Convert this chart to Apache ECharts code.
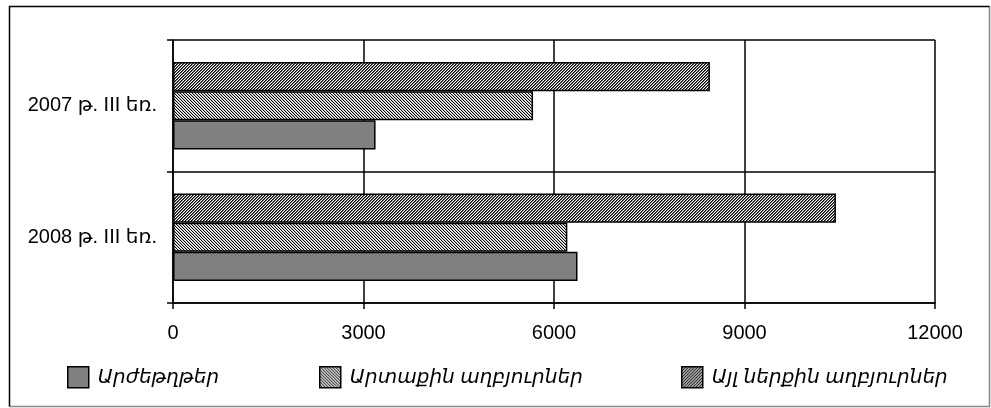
<!DOCTYPE html>
<html>
<head>
<meta charset="utf-8">
<script src="https://cdn.jsdelivr.net/npm/echarts@6/dist/echarts.min.js"></script>
<style>
html,body{margin:0;padding:0;background:#fff;}
#chart{width:991px;height:408px;}
</style>
</head>
<body>
<div id="chart"></div>
<script>
var categories = ['2007 թ. III եռ.', '2008 թ. III եռ.'];
var seriesNames = ['Արժեթղթեր', 'Արտաքին աղբյուրներ', 'Այլ ներքին աղբյուրներ'];
var securities = [3190, 6370];
var external = [5670, 6210];
var otherDomestic = [8455, 10440];
var xTicks = [0, 3000, 6000, 9000, 12000];

function makePattern(n, fn) {
  var c = document.createElement('canvas');
  c.width = n; c.height = n;
  var ctx = c.getContext('2d');
  ctx.fillStyle = '#fff';
  ctx.fillRect(0, 0, n, n);
  for (var x = 0; x < n; x++) {
    for (var y = 0; y < n; y++) {
      var col = fn(x, y);
      if (col) { ctx.fillStyle = col; ctx.fillRect(x, y, 1, 1); }
    }
  }
  return { image: c, repeat: 'repeat' };
}
var patOther = makePattern(3, function (x, y) {
  var k = (x + y) % 3;
  return k === 0 ? '#000' : (k === 1 ? '#666' : null);
});
var patExternal = makePattern(3, function (x, y) {
  var k = ((x - y) % 3 + 3) % 3;
  return k === 0 ? '#000' : (k === 1 ? '#bbb' : null);
});

var FONT = '"Liberation Sans", "DejaVu Sans", Arial, sans-serif';
var colorMap = {};
colorMap[seriesNames[0]] = '#808080';
colorMap[seriesNames[1]] = patExternal;
colorMap[seriesNames[2]] = patOther;
var dataMap = {};
dataMap[seriesNames[0]] = securities;
dataMap[seriesNames[1]] = external;
dataMap[seriesNames[2]] = otherDomestic;

// drawn top-to-bottom inside each band: other domestic, external, securities
var drawOrder = [seriesNames[2], seriesNames[1], seriesNames[0]];
var series = drawOrder.map(function (n) {
  return {
    name: n,
    type: 'bar',
    data: dataMap[n],
    barGap: '0%',
    barCategoryGap: '33.6%',
    itemStyle: { color: colorMap[n], borderColor: '#000', borderWidth: 1.5 },
    emphasis: { disabled: true },
    animation: false
  };
});

var legendLefts = [67, 319, 681];
var legends = seriesNames.map(function (n, i) {
  return {
    data: [n],
    left: legendLefts[i],
    top: 366,
    padding: 0,
    icon: 'rect',
    itemWidth: 21,
    itemHeight: 21,
    itemStyle: { borderColor: '#000', borderWidth: 1.5 },
    textStyle: { fontFamily: FONT, fontSize: 20, fontStyle: 'italic', color: '#000', padding: [0, 0, 0, 4] },
    selectedMode: false
  };
});

var chart = echarts.init(document.getElementById('chart'), null, { renderer: 'canvas' });
chart.setOption({
  backgroundColor: '#fff',
  animation: false,
  grid: { left: 173, right: 56, top: 40, bottom: 105, containLabel: false },
  xAxis: {
    type: 'value',
    min: 0, max: 12000, interval: 3000,
    axisLine: { show: true, lineStyle: { color: '#000', width: 1.5 } },
    axisTick: { show: true, length: 6, lineStyle: { color: '#000', width: 1.5 } },
    axisLabel: { margin: 20, fontFamily: FONT, fontSize: 20, color: '#000',
      formatter: function (v) { return xTicks.indexOf(v) >= 0 ? String(v) : ''; } },
    splitLine: { show: true, lineStyle: { color: '#000', width: 1.5 } }
  },
  yAxis: {
    type: 'category',
    data: categories,
    inverse: true,
    axisLine: { show: true, lineStyle: { color: '#000', width: 1.5 } },
    axisTick: { show: true, length: 6, lineStyle: { color: '#000', width: 1.5 } },
    axisLabel: { margin: 16, fontFamily: FONT, fontSize: 20, color: '#000' },
    splitLine: { show: true, lineStyle: { color: '#000', width: 1.5 } }
  },
  legend: legends,
  series: series,
  graphic: [
    { type: 'polyline', shape: { points: [[989.5, 6.5], [989.5, 406.5], [9.5, 406.5]] }, style: { stroke: '#888', lineWidth: 1.5, fill: null }, silent: true },
    { type: 'polyline', shape: { points: [[9.5, 406.5], [9.5, 6.5], [989.5, 6.5]] }, style: { stroke: '#000', lineWidth: 1.5, fill: null }, silent: true }
  ]
});
</script>
</body>
</html>
